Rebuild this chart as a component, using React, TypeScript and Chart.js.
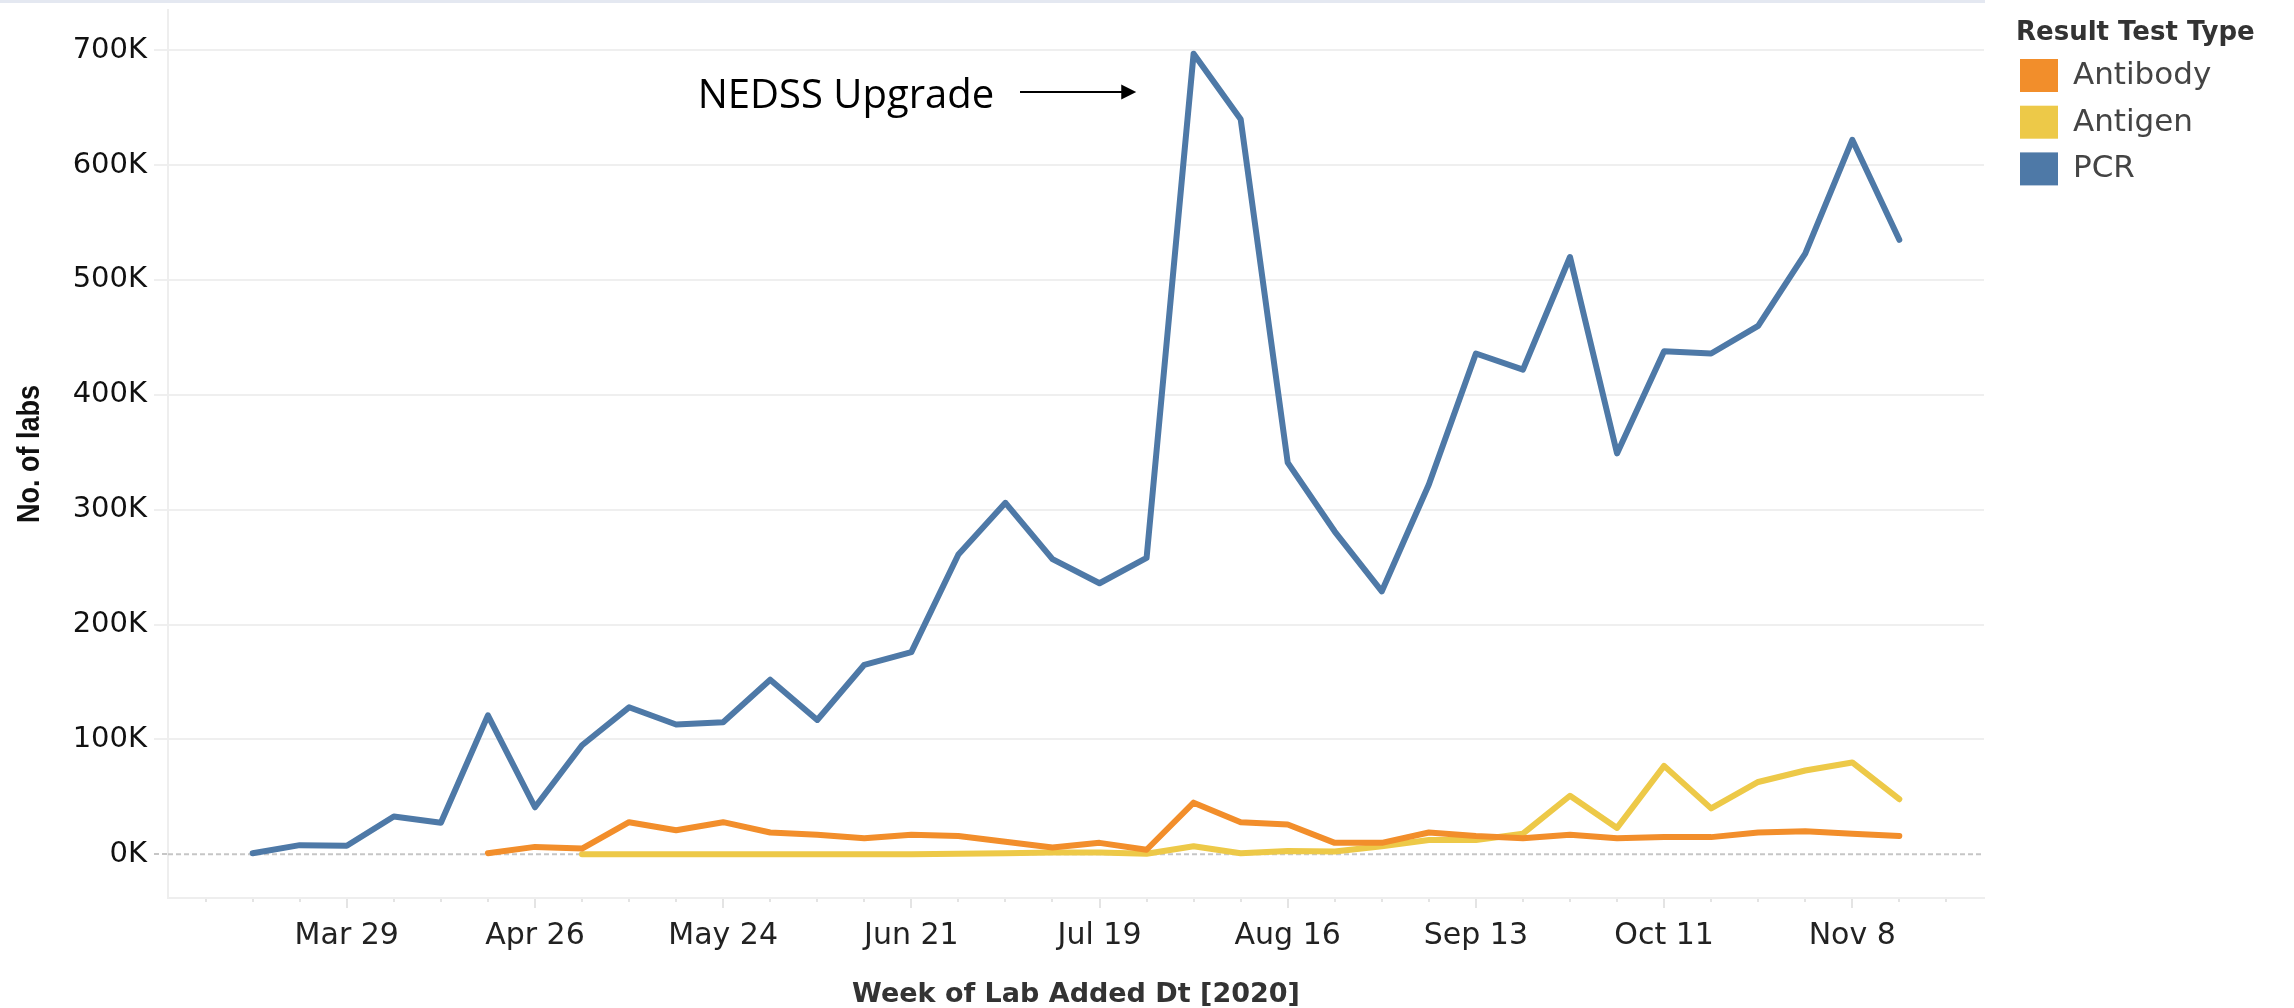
import React, { useEffect, useRef } from "react";
import { Chart, registerables } from "chart.js";

Chart.register(...registerables);

// ---------- data ----------
const weekLabels = [
  "Mar 8", "Mar 15", "Mar 22", "Mar 29", "Apr 5", "Apr 12", "Apr 19", "Apr 26",
  "May 3", "May 10", "May 17", "May 24", "May 31", "Jun 7", "Jun 14", "Jun 21",
  "Jun 28", "Jul 5", "Jul 12", "Jul 19", "Jul 26", "Aug 2", "Aug 9", "Aug 16",
  "Aug 23", "Aug 30", "Sep 6", "Sep 13", "Sep 20", "Sep 27", "Oct 4", "Oct 11",
  "Oct 18", "Oct 25", "Nov 1", "Nov 8", "Nov 15", "Nov 22",
];
const labeledWeeks = ["Mar 29", "Apr 26", "May 24", "Jun 21", "Jul 19", "Aug 16", "Sep 13", "Oct 11", "Nov 8"];

const pcrFirstWeek = "Mar 15";
const pcrValues = [
  1000, 8000, 7500, 33000, 27500, 121000, 41000, 95000, 128000, 113000, 115000, 152000,
  117000, 165000, 176000, 261000, 306000, 257000, 236000, 258000, 697000, 640000, 341000, 281000,
  229000, 322000, 436000, 422000, 520000, 349000, 438000, 436000, 460000, 523000, 622000, 535000,
];

const antibodyFirstWeek = "Apr 19";
const antibodyValues = [
  1000, 6500, 5000, 28000, 21000, 28000, 19000, 17000, 14000, 17000, 16000, 11000,
  6000, 10000, 4000, 45000, 28000, 26000, 10000, 10000, 19000, 16000, 14000, 17000,
  14000, 15000, 15000, 19000, 20000, 18000, 16000,
];

const antigenFirstWeek = "May 3";
const antigenValues = [
  0, 0, 0, 0, 0, 0, 0, 0, 500, 1000, 1500, 1500,
  500, 7000, 1000, 3000, 2500, 7000, 12500, 12500, 18000, 51000, 23000, 77000,
  40000, 63000, 73000, 80000, 48000,
];

const yTickValues = [0, 100000, 200000, 300000, 400000, 500000, 600000, 700000];
const seriesNames = ["Antibody", "Antigen", "PCR"];
const seriesColors = ["#f28e2b", "#edc948", "#4e79a7"];
const legendTitle = "Result Test Type";
const xTitle = "Week of Lab Added Dt [2020]";
const yTitle = "No. of labs";
const annotationText = "NEDSS Upgrade";

// ---------- helpers ----------
const X_MIN = -0.8;
const X_MAX = 37.8;
const Y_MIN = -38000;
const Y_MAX = 735000;

const toPoints = (firstWeek: string, values: number[]) => {
  const start = weekLabels.indexOf(firstWeek);
  return values.map((v, i) => ({ x: start + i, y: v }));
};

const TICK_FONT = "'DejaVu Sans', 'Verdana', sans-serif";

const topBandPlugin = {
  id: "topBand",
  beforeDraw(chart: any) {
    const { ctx, chartArea } = chart;
    ctx.save();
    ctx.fillStyle = "#e4e8f1";
    ctx.fillRect(0, 0, chartArea.right + 1, 3);
    ctx.restore();
  },
};

const yTitlePlugin = {
  id: "yTitle",
  afterDraw(chart: any) {
    const { ctx, chartArea } = chart;
    ctx.save();
    ctx.translate(30, (chartArea.top + chartArea.bottom) / 2);
    ctx.rotate(-Math.PI / 2);
    ctx.fillStyle = "#111111";
    ctx.font = "bold 32px 'Liberation Sans', 'Arial', sans-serif";
    ctx.textAlign = "center";
    ctx.textBaseline = "middle";
    ctx.fillText(yTitle, 0, 0, 138);
    ctx.restore();
  },
};

const legendPlugin = {
  id: "customLegend",
  afterDraw(chart: any) {
    const { ctx } = chart;
    ctx.save();
    ctx.textBaseline = "middle";
    ctx.textAlign = "left";
    ctx.fillStyle = "#333333";
    ctx.font = `bold 26px ${TICK_FONT}`;
    ctx.fillText(legendTitle, 2016, 33);
    ctx.font = `31px ${TICK_FONT}`;
    seriesNames.forEach((name, i) => {
      const top = 59 + i * 46.7;
      ctx.fillStyle = seriesColors[i];
      ctx.fillRect(2020, top, 38, 33);
      ctx.fillStyle = "#444444";
      ctx.fillText(name, 2073, top + 17);
    });
    ctx.restore();
  },
};

const annotationPlugin = {
  id: "nedssAnnotation",
  afterDatasetsDraw(chart: any) {
    const { ctx } = chart;
    const xs = chart.scales.x;
    const ys = chart.scales.y;
    ctx.save();
    ctx.fillStyle = "#000";
    ctx.strokeStyle = "#000";
    ctx.font = "40px 'Open Sans', 'Noto Sans', sans-serif";
    ctx.textAlign = "right";
    ctx.textBaseline = "alphabetic";
    ctx.fillText(annotationText, xs.getPixelForValue(16.76), ys.getPixelForValue(650000));
    const ay = ys.getPixelForValue(663600);
    const ax1 = xs.getPixelForValue(17.31);
    const ax2 = xs.getPixelForValue(19.78);
    ctx.lineWidth = 2;
    ctx.beginPath();
    ctx.moveTo(ax1, ay);
    ctx.lineTo(ax2 - 12, ay);
    ctx.stroke();
    ctx.beginPath();
    ctx.moveTo(ax2, ay);
    ctx.lineTo(ax2 - 15, ay - 7.5);
    ctx.lineTo(ax2 - 15, ay + 7.5);
    ctx.closePath();
    ctx.fill();
    ctx.restore();
  },
};

export default function App() {
  const canvasRef = useRef<HTMLCanvasElement | null>(null);

  useEffect(() => {
    document.body.style.margin = "0";
    document.body.style.overflow = "hidden";
    const canvas = canvasRef.current;
    if (!canvas) return;

    const common = {
      borderWidth: 6,
      pointRadius: 0,
      pointHoverRadius: 0,
      tension: 0,
      fill: false,
      borderJoinStyle: "round" as const,
      borderCapStyle: "round" as const,
    };

    const chart = new Chart(canvas, {
      type: "line",
      data: {
        datasets: [
          { label: seriesNames[2], data: toPoints(pcrFirstWeek, pcrValues), borderColor: seriesColors[2], backgroundColor: seriesColors[2], order: 0, ...common },
          { label: seriesNames[1], data: toPoints(antigenFirstWeek, antigenValues), borderColor: seriesColors[1], backgroundColor: seriesColors[1], order: 2, ...common },
          { label: seriesNames[0], data: toPoints(antibodyFirstWeek, antibodyValues), borderColor: seriesColors[0], backgroundColor: seriesColors[0], order: 1, ...common },
          {
            label: "zero",
            data: [{ x: X_MIN, y: 0 }, { x: X_MAX, y: 0 }],
            borderColor: "#c6c6c6",
            borderWidth: 2,
            borderDash: [5, 3],
            pointRadius: 0,
            order: 10,
          },
        ],
      },
      options: {
        animation: false,
        responsive: false,
        devicePixelRatio: 1,
        layout: { padding: { left: 0, top: 10, right: 310, bottom: 0 } },
        plugins: {
          legend: { display: false },
          tooltip: { enabled: false },
        },
        scales: {
          x: {
            type: "linear",
            min: X_MIN,
            max: X_MAX,
            afterBuildTicks: (s: any) => {
              s.ticks = weekLabels.map((_, i) => ({ value: i }));
            },
            afterFit: (s: any) => {
              s.height = 110;
              s.paddingLeft = 0;
              s.paddingRight = 0;
            },
            ticks: {
              autoSkip: false,
              maxRotation: 0,
              minRotation: 0,
              padding: 10,
              color: "#222222",
              font: { family: TICK_FONT, size: 30 },
              callback: (v: any) => {
                const l = weekLabels[Number(v)];
                return labeledWeeks.includes(l) ? l : "";
              },
            },
            grid: {
              drawOnChartArea: false,
              drawTicks: true,
              tickLength: 10,
              lineWidth: 2,
              tickWidth: 2,
              tickColor: "#e4e4e4",
              tickBorderDash: (c: any) => {
                const l = weekLabels[c.tick ? c.tick.value : 0];
                return labeledWeeks.includes(l) ? [] : [3, 40];
              },
            },
            border: { display: true, color: "#eeeeee", width: 2 },
            title: {
              display: true,
              text: xTitle,
              color: "#333333",
              font: { family: TICK_FONT, size: 27, weight: "bold", lineHeight: 1 },
              padding: { top: 0, bottom: 0 },
            },
          },
          y: {
            type: "linear",
            min: Y_MIN,
            max: Y_MAX,
            afterBuildTicks: (s: any) => {
              s.ticks = yTickValues.map((v) => ({ value: v }));
            },
            afterFit: (s: any) => {
              s.width = 168;
              s.paddingTop = 0;
              s.paddingBottom = 0;
            },
            ticks: {
              padding: 7,
              color: "#111111",
              font: { family: TICK_FONT, size: 29 },
              callback: (v: any) => `${Math.round(Number(v) / 1000)}K`,
            },
            grid: {
              lineWidth: 2,
              tickLength: 14,
              color: (c: any) => (c.tick && c.tick.value === 0 ? "rgba(0,0,0,0)" : "#efefef"),
              tickColor: (c: any) => (c.tick && c.tick.value === 0 ? "#c6c6c6" : "#efefef"),
              tickBorderDash: (c: any) => (c.tick && c.tick.value === 0 ? [5, 3] : []),
            },
            border: { display: true, color: "#eeeeee", width: 2 },
            title: { display: false },
          },
        },
      },
      plugins: [topBandPlugin, annotationPlugin, legendPlugin, yTitlePlugin],
    } as any);

    return () => {
      chart.destroy();
    };
  }, []);

  return (
    <div style={{ width: 2294, height: 1008, position: "relative" }}>
      <canvas ref={canvasRef} width={2294} height={1008} style={{ display: "block" }} />
    </div>
  );
}
